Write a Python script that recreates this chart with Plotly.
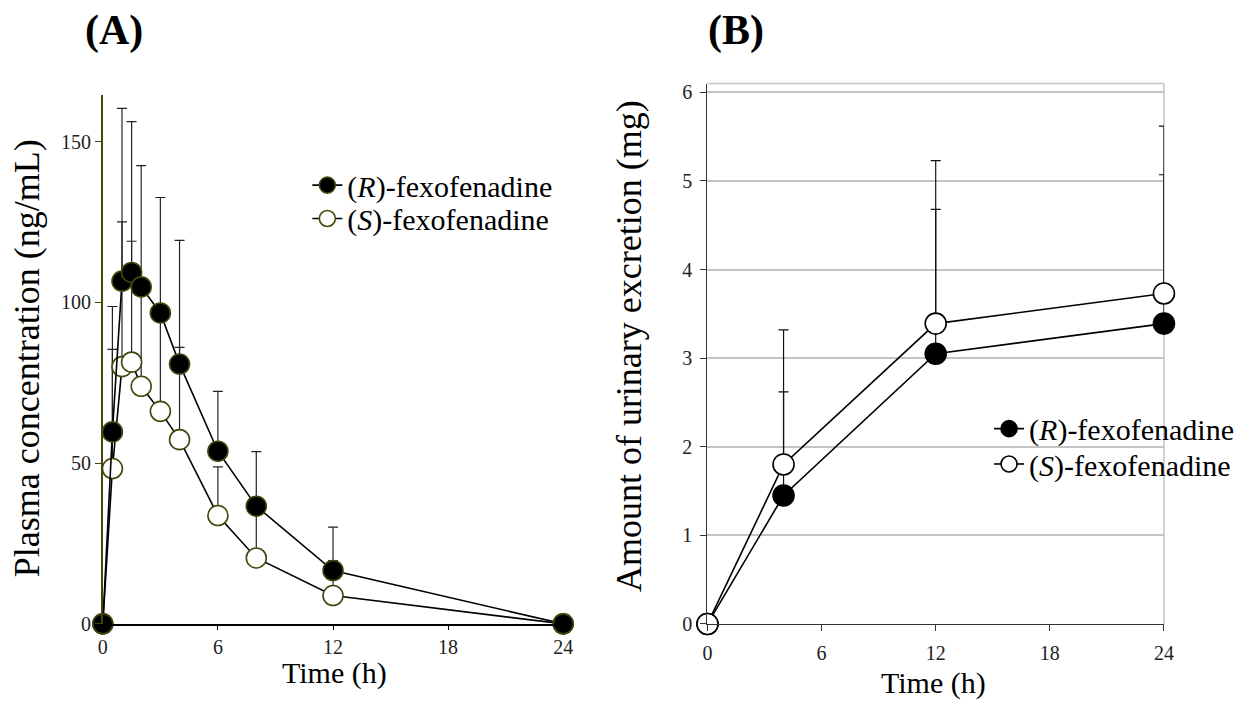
import plotly.graph_objects as go

# ---- Data ----
time_a = [0, 0.5, 1, 1.5, 2, 3, 4, 6, 8, 12, 24]
r_plasma = [0, 59.7, 106.6, 109.3, 104.8, 96.7, 80.8, 53.7, 36.6, 16.6, 0]
r_plasma_sd = [0, 39.0, 53.7, 46.9, 37.7, 35.9, 38.5, 18.6, 17.0, 13.5, 0]
s_plasma = [0, 48.3, 80.0, 81.4, 73.9, 66.1, 57.3, 33.7, 20.5, 8.8, 0]
s_plasma_sd = [0, 37.1, 45.0, 37.6, 29.0, 29.0, 28.7, 15.1, 14.5, 10.9, 0]

time_b = [0, 4, 12, 24]
r_urine = [0, 1.45, 3.05, 3.39]
r_urine_sd = [0, 1.17, 1.63, 1.68]
s_urine = [0, 1.80, 3.39, 3.73]
s_urine_sd = [0, 1.52, 1.84, 1.89]

x_ticks = [0, 6, 12, 18, 24]
ya_ticks = [0, 50, 100, 150]
yb_ticks = [0, 1, 2, 3, 4, 5, 6]
label_r = "(<i>R</i>)-fexofenadine"
label_s = "(<i>S</i>)-fexofenadine"

FONT = "Liberation Serif, Times New Roman, serif"
W, H = 1251, 720
OLIVE = "#45450a"

def px(x):
    return x / W

def py(y):
    return 1 - y / H

fig = go.Figure()

def add_err(x, y, sd, xa, ya, color):
    fig.add_trace(go.Scatter(
        x=x, y=y, mode="markers", xaxis=xa, yaxis=ya,
        marker=dict(size=1, color="rgba(0,0,0,0)"),
        error_y=dict(type="data", symmetric=False, array=sd,
                     arrayminus=[0] * len(sd), color=color,
                     thickness=1.2, width=5),
        showlegend=False, hoverinfo="skip", cliponaxis=False))

# Panel A error bars
add_err(time_a, r_plasma, r_plasma_sd, "x", "y", "#222222")
add_err(time_a, s_plasma, s_plasma_sd, "x", "y", "#222222")
# Panel B error bars
add_err(time_b, r_urine, r_urine_sd, "x2", "y2", "#111111")
add_err(time_b, s_urine, s_urine_sd, "x2", "y2", "#111111")

# Panel A series (S first so R sits on top)
fig.add_trace(go.Scatter(
    x=time_a, y=s_plasma, mode="lines+markers", name=label_s,
    xaxis="x", yaxis="y", legend="legend2",
    line=dict(color="black", width=1.6),
    marker=dict(size=20, color="white", line=dict(color=OLIVE, width=1.6)),
    cliponaxis=False))
fig.add_trace(go.Scatter(
    x=time_a, y=r_plasma, mode="lines+markers", name=label_r,
    xaxis="x", yaxis="y", legend="legend",
    line=dict(color="black", width=1.6),
    marker=dict(size=20, color="black", line=dict(color=OLIVE, width=1.6)),
    cliponaxis=False))

# Panel B series
fig.add_trace(go.Scatter(
    x=time_b, y=r_urine, mode="lines+markers", name=label_r,
    xaxis="x2", yaxis="y2", legend="legend3",
    line=dict(color="black", width=1.6),
    marker=dict(size=21, color="black", line=dict(color="black", width=1.6)),
    cliponaxis=False))
fig.add_trace(go.Scatter(
    x=time_b, y=s_urine, mode="lines+markers", name=label_s,
    xaxis="x2", yaxis="y2", legend="legend4",
    line=dict(color="black", width=1.6),
    marker=dict(size=21, color="white", line=dict(color="black", width=1.6)),
    cliponaxis=False))

tickfont = dict(family=FONT, size=20, color="#222222")
legfont = dict(family=FONT, size=30, color="black")

def leg(x, ytop):
    return dict(x=px(x), y=py(ytop), xanchor="left", yanchor="top",
                bgcolor="rgba(0,0,0,0)", font=legfont, itemwidth=30)

A_BOT, A_TOP = 633.3, 95
B_BOT, B_TOP = 633.4, 83

fig.update_layout(
    width=W, height=H,
    margin=dict(l=0, r=0, t=0, b=0),
    paper_bgcolor="white", plot_bgcolor="white",
    font=dict(family=FONT, color="black"),
    xaxis=dict(domain=[px(99), px(565)], range=[0, 24], anchor="y",
               tickvals=x_ticks, ticks="outside", ticklen=4, tickcolor="black",
               showline=True, linecolor="black", linewidth=1.6,
               showgrid=False, zeroline=False, tickfont=tickfont),
    yaxis=dict(domain=[py(A_BOT), py(A_TOP)], range=[0, 164.4], anchor="x",
               tickvals=ya_ticks, ticks="outside", ticklen=6, tickcolor=OLIVE,
               showline=True, linecolor=OLIVE, linewidth=1.6,
               showgrid=False, zeroline=False, tickfont=tickfont),
    xaxis2=dict(domain=[px(711), px(1173)], range=[0, 24], anchor="y2",
                tickvals=x_ticks, ticks="outside", ticklen=6, tickcolor="#333333",
                showline=True, linecolor="#333333", linewidth=1.2,
                showgrid=False, zeroline=False, tickfont=tickfont,
                ticklabelstandoff=5),
    yaxis2=dict(domain=[py(B_BOT), py(B_TOP)], range=[0, 6.10], anchor="x2",
                tickvals=yb_ticks, ticks="outside", ticklen=6, tickcolor="#333333",
                showline=True, linecolor="#333333", linewidth=1.2,
                showgrid=True, gridcolor="#c4c4c4", gridwidth=1.5,
                zeroline=False, tickfont=tickfont, ticklabelstandoff=4),
    legend=leg(306, 160),
    legend2=leg(306, 194),
    legend3=leg(996, 408),
    legend4=leg(996, 444),
    shapes=[
        dict(type="line", xref="x2 domain", yref="y2 domain", x0=0, x1=1, y0=1, y1=1,
             line=dict(color="#c4c4c4", width=1.5), layer="below"),
        dict(type="line", xref="x2 domain", yref="y2 domain", x0=1, x1=1, y0=0, y1=1,
             line=dict(color="#c4c4c4", width=1.5), layer="below"),
    ],
    annotations=[
        dict(text="<b>(A)</b>", x=px(110), y=py(29), xref="paper", yref="paper",
             showarrow=False, xanchor="center", yanchor="middle",
             font=dict(family=FONT, size=42, color="black")),
        dict(text="<b>(B)</b>", x=px(740), y=py(29), xref="paper", yref="paper",
             showarrow=False, xanchor="center", yanchor="middle",
             font=dict(family=FONT, size=42, color="black")),
        dict(text="Plasma concentration (ng/mL)", x=px(23), y=py(363),
             xref="paper", yref="paper", showarrow=False, textangle=-90,
             xanchor="center", yanchor="middle",
             font=dict(family=FONT, size=36, color="black")),
        dict(text="Amount of urinary excretion (mg)", x=px(631), y=py(350),
             xref="paper", yref="paper", showarrow=False, textangle=-90,
             xanchor="center", yanchor="middle",
             font=dict(family=FONT, size=36, color="black")),
        dict(text="Time (h)", x=px(333), y=py(683), xref="paper", yref="paper",
             showarrow=False, xanchor="center", yanchor="middle",
             font=dict(family=FONT, size=30, color="black")),
        dict(text="Time (h)", x=px(940), y=py(694), xref="paper", yref="paper",
             showarrow=False, xanchor="center", yanchor="middle",
             font=dict(family=FONT, size=30, color="black")),
    ],
)

fig.write_html("out.html")
